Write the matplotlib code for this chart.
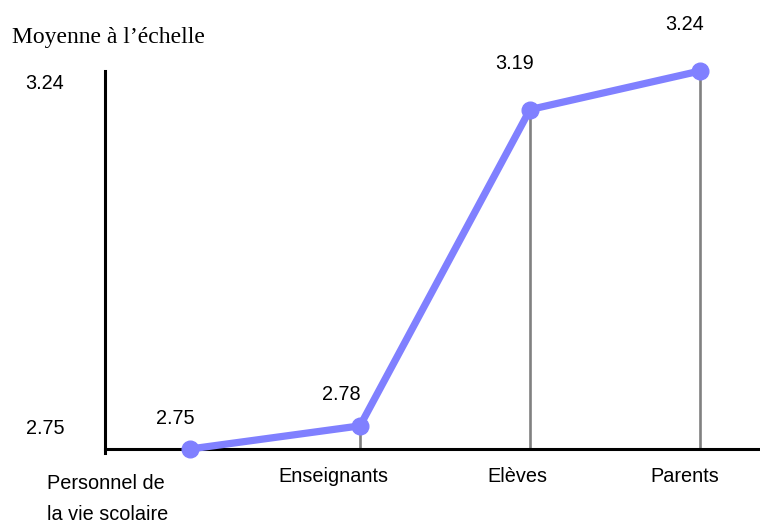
import matplotlib.pyplot as plt
from matplotlib import transforms

# data
categories = ["Personnel de\nla vie scolaire", "Enseignants", "Elèves", "Parents"]
values = [2.75, 2.78, 3.19, 3.24]
value_labels = ["2.75", "2.78", "3.19", "3.24"]
ytick_labels = ["2.75", "3.24"]

plt.rcParams['font.family'] = ['Liberation Sans', 'DejaVu Sans']

fig = plt.figure(figsize=(7.6, 5.24), dpi=100)
W, H = 760, 524
ax = fig.add_axes([105 / W, (H - 449) / H, 655 / W, 378 / H])

xs = list(range(len(values)))
ax.set_xlim(-0.5, (760 - 190) / 170)
ax.set_ylim(2.75, 3.24)

# gray drop lines to the axis
ax.vlines(xs[1:], 2.75, values[1:], color='#808080', lw=1.9, zorder=2)

ax.plot(xs, values, color='#8080ff', lw=5.2, marker='o', ms=12,
        solid_capstyle='round', zorder=3, clip_on=False)

for s in ['top', 'right']:
    ax.spines[s].set_visible(False)
ax.spines['left'].set_linewidth(2.2)
ax.spines['bottom'].set_linewidth(2.2)
ax.spines['left'].set_bounds(2.745, 3.24)
ax.set_xticks([])
ax.set_yticks([])

fs = 14.3

# value labels above points (offsets in pixels)
val_off = [(-15, 31), (-19, 31), (-15, 46), (-15, 46)]
for x, v, lab, (dx, dy) in zip(xs, values, value_labels, val_off):
    tr = transforms.offset_copy(ax.transData, fig=fig, x=dx, y=dy, units='dots')
    ax.text(x, v, lab, transform=tr, ha='center', va='center', fontsize=fs, clip_on=False)

# category labels below axis
cat_off = [(-82, -50), (-27, -28), (-13, -28), (-15, -28)]
for x, lab, (dx, dy) in zip(xs, categories, cat_off):
    tr = transforms.offset_copy(ax.transData, fig=fig, x=dx, y=dy, units='dots')
    ax.text(x, 2.75, lab, transform=tr, ha='center', va='center',
            fontsize=fs, linespacing=1.75, multialignment='left')

# y labels
fig.text(45 / W, 1 - 84 / H, ytick_labels[1], ha='center', va='center', fontsize=fs)
fig.text(45 / W, 1 - 428 / H, ytick_labels[0], ha='center', va='center', fontsize=fs)
fig.text(12 / W, 1 - 37 / H, "Moyenne à l’échelle", ha='left', va='center',
         fontsize=17, family=['Liberation Serif', 'DejaVu Serif'])

fig.savefig("out.png", dpi=100)
